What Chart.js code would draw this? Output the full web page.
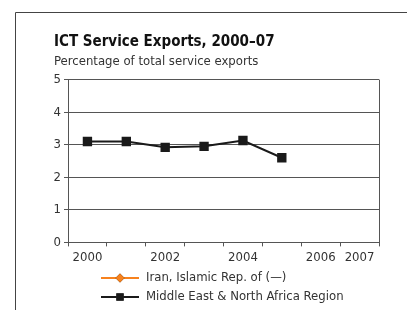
<!DOCTYPE html>
<html lang="en">
<head>
    <meta charset="UTF-8">
    <title>ICT Service Exports</title>
    <script src="https://cdn.jsdelivr.net/npm/chart.js"></script>
    <style>
        html, body { margin: 0; padding: 0; background: #fff; }
        #wrap { position: relative; width: 407px; height: 310px; overflow: hidden; }
    </style>
</head>
<body>
    <div id="wrap"><canvas id="ictChart" width="407" height="310"></canvas></div>
    <script>
        // data
        var years = ['2000', '2001', '2002', '2003', '2004', '2005', '2006', '2007'];
        var shownYears = ['2000', '2002', '2004', '2006', '2007'];
        var iranValues = [null, null, null, null, null, null, null, null];
        var menaValues = [3.1, 3.1, 2.92, 2.95, 3.13, 2.6, null, null];
        var seriesNames = ['Iran, Islamic Rep. of (\u2014)', 'Middle East & North Africa Region'];

        var FONT = '"Liberation Sans Narrow", "DejaVu Sans Condensed", "Liberation Sans", sans-serif';
        var gridColor = '#555';

        // frame, right edge of plot and the legend with line + marker samples
        var extras = {
            id: 'extras',
            afterDraw: function(chart) {
                var c = chart.ctx, a = chart.chartArea;
                c.save();
                c.strokeStyle = '#444';
                c.lineWidth = 1;
                c.beginPath();
                c.moveTo(15.5, 310);
                c.lineTo(15.5, 12.5);
                c.lineTo(407, 12.5);
                c.stroke();
                c.strokeStyle = gridColor;
                c.beginPath();
                c.moveTo(Math.round(a.right) + 0.5, a.top);
                c.lineTo(Math.round(a.right) + 0.5, a.bottom);
                c.stroke();

                var rows = [
                    { ds: chart.data.datasets[0], y: 278 },
                    { ds: chart.data.datasets[1], y: 297 }
                ];
                c.font = '13px ' + FONT;
                c.textBaseline = 'middle';
                rows.forEach(function(r) {
                    c.strokeStyle = r.ds.borderColor;
                    c.lineWidth = 2;
                    c.beginPath();
                    c.moveTo(101, r.y);
                    c.lineTo(139, r.y);
                    c.stroke();
                    Chart.helpers.drawPoint(c, {
                        pointStyle: r.ds.pointStyle,
                        rotation: 0,
                        radius: r.ds.pointRadius,
                        borderWidth: 0
                    }, 120, r.y);
                    c.fillStyle = r.ds.borderColor;
                    c.fill();
                    c.fillStyle = '#333';
                    c.fillText(r.ds.label, 146, r.y);
                });
                c.restore();
            }
        };

        var ctx = document.getElementById('ictChart').getContext('2d');
        var ictChart = new Chart(ctx, {
            type: 'line',
            data: {
                labels: years,
                datasets: [{
                    label: seriesNames[0],
                    data: iranValues,
                    borderColor: '#f7821e',
                    backgroundColor: '#f7821e',
                    borderWidth: 2,
                    pointStyle: 'rectRot',
                    pointRadius: 4.5
                }, {
                    label: seriesNames[1],
                    data: menaValues,
                    borderColor: '#1a1a1a',
                    backgroundColor: '#1a1a1a',
                    borderWidth: 2,
                    pointStyle: 'rect',
                    pointRadius: 5.2,
                    tension: 0
                }]
            },
            options: {
                responsive: false,
                animation: false,
                layout: {
                    padding: { left: 54, right: 28, top: 0, bottom: 42 }
                },
                scales: {
                    x: {
                        offset: true,
                        grid: {
                            offset: true,
                            drawOnChartArea: false,
                            drawTicks: true,
                            tickLength: 4,
                            color: gridColor
                        },
                        border: { color: gridColor },
                        ticks: {
                            color: '#333',
                            font: { family: FONT, size: 13 },
                            maxRotation: 0,
                            autoSkip: false,
                            padding: 3,
                            callback: function(v, i) {
                                var y = years[i];
                                return shownYears.indexOf(y) >= 0 ? y : '';
                            }
                        }
                    },
                    y: {
                        min: 0,
                        max: 5,
                        afterFit: function(s) { s.width = 14; },
                        grid: {
                            color: gridColor,
                            tickLength: 4
                        },
                        border: { color: gridColor },
                        ticks: {
                            stepSize: 1,
                            color: '#333',
                            font: { family: FONT, size: 13 },
                            padding: 3
                        }
                    }
                },
                plugins: {
                    legend: { display: false },
                    tooltip: { enabled: false },
                    title: {
                        display: true,
                        text: 'ICT Service Exports, 2000\u201307',
                        align: 'start',
                        color: '#111',
                        font: { family: FONT, size: 15, weight: 'bold' },
                        padding: { top: 33, bottom: 3 }
                    },
                    subtitle: {
                        display: true,
                        text: 'Percentage of total service exports',
                        align: 'start',
                        color: '#333',
                        font: { family: FONT, size: 13 },
                        padding: { top: 0, bottom: 10 }
                    }
                }
            },
            plugins: [extras]
        });
    </script>
</body>
</html>
